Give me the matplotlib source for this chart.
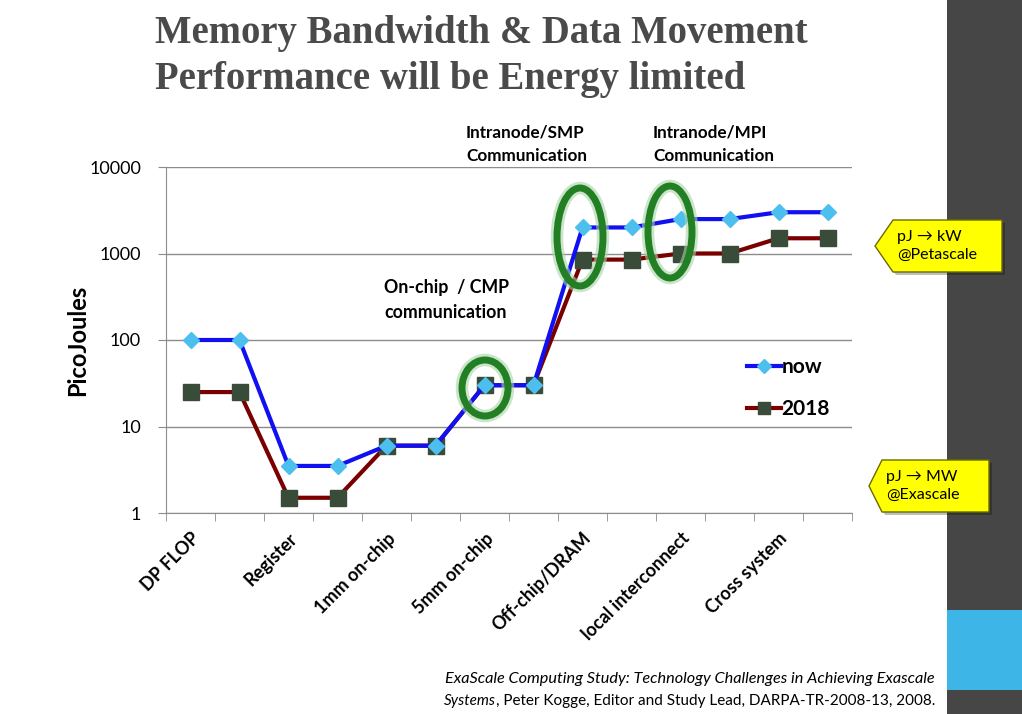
import numpy as np
import matplotlib
matplotlib.use("Agg")
import matplotlib.pyplot as plt
from matplotlib.patches import Ellipse, Polygon, Rectangle
from matplotlib.ticker import FixedLocator, NullFormatter

# data (picojoules per operation)
steps = list(range(14))
now = [100, 100, 3.5, 3.5, 6, 6, 30, 30, 2000, 2000, 2500, 2500, 3000, 3000]
y2018 = [25, 25, 1.5, 1.5, 6, 6, 30, 30, 850, 850, 1000, 1000, 1500, 1500]
cat_labels = ["DP FLOP", "Register", "1mm on-chip", "5mm on-chip",
              "Off-chip/DRAM", "local interconnect", "Cross system"]
y_ticks = [1, 10, 100, 1000, 10000]

SANS = "Lato"
W, H = 1022, 714

fig = plt.figure(figsize=(W / 100, H / 100), dpi=100)
fig.patch.set_facecolor("white")

def px(x, y):
    # figure pixel (from top-left) -> figure fraction
    return (x / W, 1 - y / H)

# right side bar
fig.patches.append(Rectangle(px(947, 714), 75 / W, 1, transform=fig.transFigure,
                             facecolor="#464646", edgecolor="none", zorder=0))
fig.patches.append(Rectangle(px(947, 690), 75 / W, 80 / H, transform=fig.transFigure,
                             facecolor="#3db5e6", edgecolor="none", zorder=1))

# title
fig.text(155 / W, 1 - 34 / H, "Memory Bandwidth & Data Movement",
         family="Liberation Serif", weight="bold", fontsize=27.9, color="#4a4a4a",
         va="center", ha="left")
fig.text(155 / W, 1 - 79 / H, "Performance will be Energy limited",
         family="Liberation Serif", weight="bold", fontsize=27.9, color="#4a4a4a",
         va="center", ha="left")

ax = fig.add_axes([166 / W, 1 - 513 / H, 686 / W, 346 / H])
ax.set_facecolor("none")
ax.set_yscale("log")
ax.set_ylim(1, 10000)
ax.set_xlim(-0.5, 13.5)

ax.plot(steps, now, color="#1010f0", lw=3, marker="D", ms=8,
        mfc="#4dbfef", mec="#4dbfef", label="now", zorder=4)
ax.plot(steps, y2018, color="#7a0000", lw=3, marker="s", ms=11,
        mfc="#394b39", mec="#394b39", label="2018", zorder=3)

ax.yaxis.set_major_locator(FixedLocator(y_ticks))
ax.yaxis.set_minor_locator(FixedLocator([]))
ax.set_yticklabels([str(v) for v in y_ticks], family=SANS, fontsize=13)
ax.grid(axis="y", color="#8c8c8c", lw=1)
ax.tick_params(axis="y", length=6, color="#8c8c8c", pad=12)

ax.set_xticks(steps[::2])
ax.set_xticklabels(cat_labels, rotation=45, ha="right", rotation_mode="anchor",
                   family=SANS, weight="bold", fontsize=13)
ax.xaxis.set_minor_locator(FixedLocator(np.arange(-0.5, 14, 1)))
ax.xaxis.set_minor_formatter(NullFormatter())
ax.tick_params(axis="x", which="major", length=0, pad=12)
ax.tick_params(axis="x", which="minor", length=6, color="#8c8c8c")

for s in ["top", "right"]:
    ax.spines[s].set_visible(False)
for s in ["left", "bottom"]:
    ax.spines[s].set_color("#8c8c8c")

ax.set_ylabel("PicoJoules", family=SANS, weight="bold", fontsize=17)
ax.yaxis.set_label_coords(-0.112, 0.5)

leg = ax.legend(loc="upper left", bbox_to_anchor=(0.82, 0.505), frameon=False,
                prop={"family": SANS, "weight": "bold", "size": 15},
                handlelength=1.6, handletextpad=0.05, labelspacing=1.05,
                markerscale=0.85)

# green highlight ellipses (axes fraction)
def ring(cx, cy, w, h):
    c = ((cx - 166) / 686, (513 - cy) / 346)
    for lw, col, a in [(9, "#a8d4a8", 0.6), (5, "#237f23", 1.0)]:
        ax.add_patch(Ellipse(c, w / 686, h / 346, transform=ax.transAxes,
                             fill=False, edgecolor=col, lw=lw, alpha=a, zorder=6,
                             clip_on=False))

ring(580, 237, 46, 98)
ring(670, 232, 44, 92)
ring(485, 388, 46, 56)

# annotations
def label(x, y, s, size=12.3):
    fig.text(x / W, 1 - y / H, s, family=SANS, weight="bold", fontsize=size,
             ha="left", va="center", linespacing=1.55)

label(466, 144, "Intranode/SMP\nCommunication")
label(653, 144, "Intranode/MPI\nCommunication")
label(384, 300, "On-chip  / CMP\ncommunication", size=12.8)

# yellow callouts
def callout(tip, left, right, top, bot, text):
    cy = (top + bot) / 2
    pts = [(tip, cy), (left, top), (right, top), (right, bot), (left, bot)]
    shadow = Polygon([px(x + 3, y + 3) for x, y in pts], closed=True,
                     transform=fig.transFigure, facecolor="#00000040",
                     edgecolor="none", zorder=8)
    body = Polygon([px(x, y) for x, y in pts], closed=True,
                   transform=fig.transFigure, facecolor="#ffff00",
                   edgecolor="#6b6b00", lw=1, zorder=9)
    fig.patches.extend([shadow, body])
    fig.text((left + 4) / W, 1 - cy / H, text, family=[SANS, "DejaVu Sans"],
             fontsize=11.5, ha="left", va="center", linespacing=1.4, zorder=10)

callout(875, 893, 1002, 220, 272, "pJ \u2192 kW\n@Petascale")
callout(869, 882, 989, 460, 512, "pJ \u2192 MW\n@Exascale")

# citation
fig.text(935 / W, 1 - 679 / H,
         "ExaScale Computing Study: Technology Challenges in Achieving Exascale",
         family=SANS, style="italic", fontsize=11.7, ha="right", va="center")
t2 = fig.text(935 / W, 1 - 701 / H,
              ", Peter Kogge, Editor and Study Lead, DARPA-TR-2008-13, 2008.",
              family=SANS, fontsize=11.0, ha="right", va="center")
# "Systems" in italics, right before the normal-weight part
ax.annotate("Systems", xy=(0, 0.5), xycoords=t2, ha="right", va="center",
            family=SANS, style="italic", fontsize=11.0, annotation_clip=False)

fig.savefig("out.png", dpi=100)
